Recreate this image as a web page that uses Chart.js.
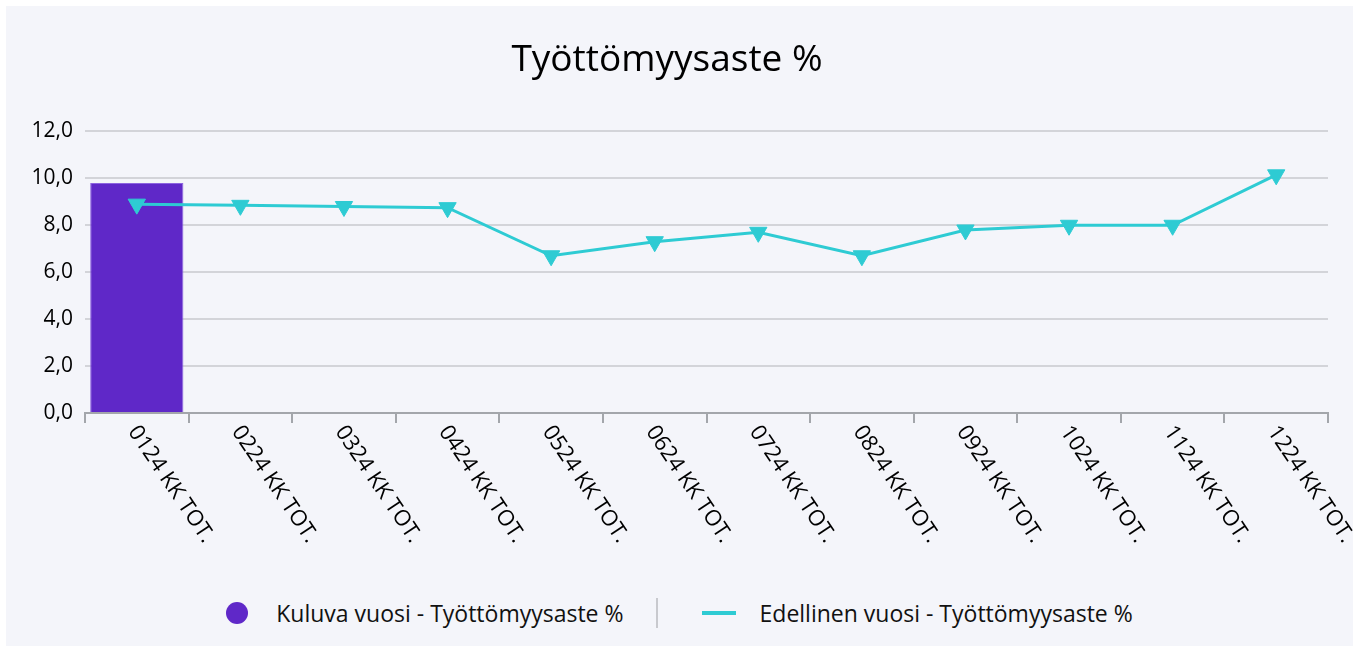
<!DOCTYPE html>
<html lang="fi">
<head>
<meta charset="utf-8">
<title>Työttömyysaste %</title>
<script src="https://cdn.jsdelivr.net/npm/chart.js@4.4.1/dist/chart.umd.min.js"></script>
<style>
  html, body { margin: 0; padding: 0; background: #ffffff; }
  #panel {
    position: absolute; left: 6px; top: 6px; width: 1347px; height: 640px;
    background: #f4f5fa; font-family: "Open Sans", sans-serif;
  }
  #chartBox { position: absolute; left: 0; top: 0; width: 1347px; height: 580px; }
  #legend {
    position: absolute; left: 0; top: 589px; width: 1347px; height: 36px;
    display: flex; align-items: center; justify-content: center;
    font-size: 23px; color: #111;
  }
  .item { display: flex; align-items: center; }
  .dot { width: 22px; height: 22px; border-radius: 50%; background: #5f28c8; margin-right: 28px; }
  .dash { width: 34px; height: 4px; background: #2ecbd3; margin-right: 24px; }
  .sep { width: 2px; height: 30px; background: #c8c9ce; margin: 0 44px 0 32px; }
</style>
</head>
<body>
<div id="panel">
  <div id="chartBox"><canvas id="unemploymentChart"></canvas></div>
  <div id="legend">
    <div class="item"><span class="dot"></span><span>Kuluva vuosi - Työttömyysaste %</span></div>
    <span class="sep"></span>
    <div class="item"><span class="dash"></span><span>Edellinen vuosi - Työttömyysaste %</span></div>
  </div>
</div>
<script>
const months = ['0124 KK TOT.', '0224 KK TOT.', '0324 KK TOT.', '0424 KK TOT.', '0524 KK TOT.', '0624 KK TOT.',
  '0724 KK TOT.', '0824 KK TOT.', '0924 KK TOT.', '1024 KK TOT.', '1124 KK TOT.', '1224 KK TOT.'];
const currentYear = [9.8, null, null, null, null, null, null, null, null, null, null, null];
const previousYear = [8.9, 8.85, 8.8, 8.75, 6.7, 7.3, 7.7, 6.7, 7.8, 8.0, 8.0, 10.15];
const yTicks = [0, 2, 4, 6, 8, 10, 12];

// x labels run downwards to the right, which Chart.js can't do on its own
const slantedLabels = {
  id: 'slantedLabels',
  afterDraw(chart) {
    const xs = chart.scales.x;
    const ctx = chart.ctx;
    ctx.save();
    ctx.font = '22px "Open Sans"';
    ctx.fillStyle = '#000';
    ctx.textAlign = 'left';
    ctx.textBaseline = 'middle';
    months.forEach((label, i) => {
      ctx.save();
      ctx.translate(xs.getPixelForValue(i) - 4, xs.top + 15);
      ctx.rotate(56 * Math.PI / 180);
      ctx.fillText(label, 0, 0);
      ctx.restore();
    });
    ctx.restore();
  }
};

window.addEventListener('DOMContentLoaded', () => {
  const ctx = document.getElementById('unemploymentChart');
  new Chart(ctx, {
    data: {
      labels: months,
      datasets: [
        {
          type: 'line',
          label: 'Edellinen vuosi - Työttömyysaste %',
          data: previousYear,
          borderColor: '#2ecbd3',
          backgroundColor: '#2ecbd3',
          borderWidth: 3,
          tension: 0,
          pointStyle: 'triangle',
          rotation: 180,
          pointRadius: 10,
          pointBorderWidth: 1,
          order: 0
        },
        {
          type: 'bar',
          label: 'Kuluva vuosi - Työttömyysaste %',
          data: currentYear,
          backgroundColor: '#5f28c8',
          borderColor: '#8c63e0',
          borderWidth: 1,
          barPercentage: 0.9,
          categoryPercentage: 1,
          order: 1
        }
      ]
    },
    options: {
      responsive: true,
      maintainAspectRatio: false,
      animation: false,
      layout: { padding: { right: 25, left: 0, bottom: 0 } },
      plugins: {
        legend: { display: false },
        tooltip: { enabled: false },
        title: {
          display: true,
          text: 'Työttömyysaste %',
          color: '#000',
          font: { family: '"Open Sans"', size: 37, weight: 'normal', lineHeight: 1.2 },
          padding: { top: 32, bottom: 49 }
        }
      },
      scales: {
        x: {
          offset: true,
          grid: { drawOnChartArea: false, drawTicks: true, tickLength: 10, color: '#a3a6ab', lineWidth: 2, offset: true },
          border: { display: true, color: '#a3a6ab', width: 2 },
          ticks: { display: false },
          afterFit(scale) { scale.height = 173; }
        },
        y: {
          min: 0,
          max: 12,
          afterBuildTicks(scale) { scale.ticks = yTicks.map(v => ({ value: v })); },
          grid: { color: '#d3d4d9', lineWidth: 2, drawTicks: false },
          border: { display: false },
          ticks: {
            color: '#000',
            padding: 12,
            font: { family: '"Open Sans"', size: 21 },
            callback: (v) => v.toFixed(1).replace('.', ',')
          },
          afterFit(scale) { scale.width = 79; }
        }
      }
    },
    plugins: [slantedLabels]
  });
});
</script>
</body>
</html>
